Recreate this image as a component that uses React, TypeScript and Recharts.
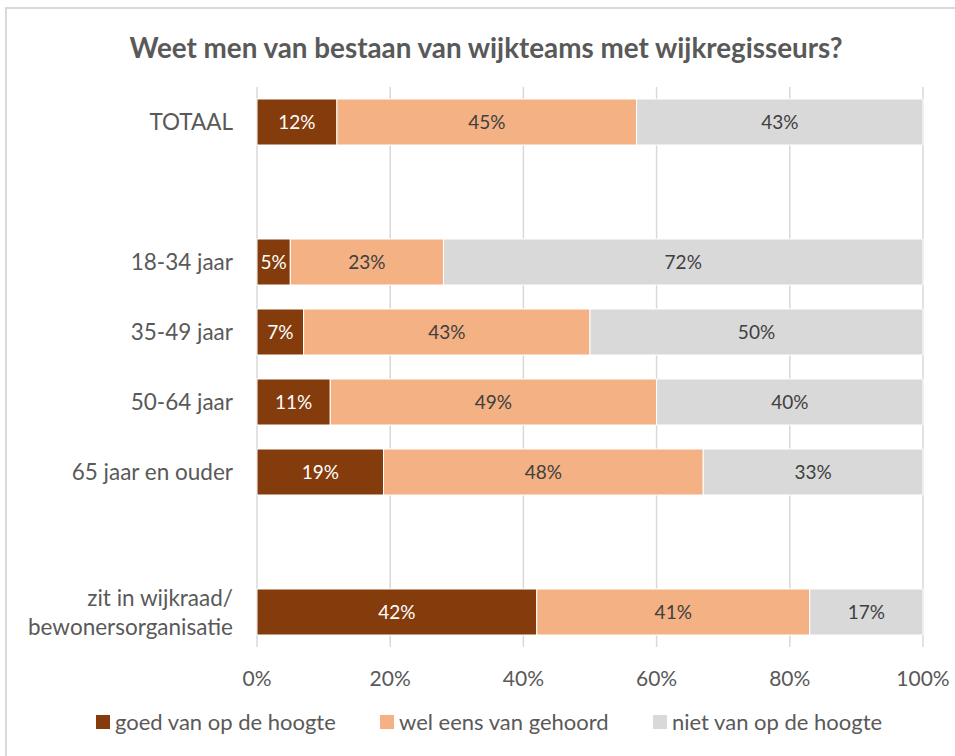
import React from 'react';
import { BarChart, Bar, XAxis, YAxis, CartesianGrid, LabelList } from 'recharts';

const categories = [
    'TOTAAL',
    ' ',
    '18-34 jaar',
    '35-49 jaar',
    '50-64 jaar',
    '65 jaar en ouder',
    '  ',
    'zit in wijkraad/\nbewonersorganisatie',
];
const goedValues = [12, null, 5, 7, 11, 19, null, 42];
const welValues = [45, null, 23, 43, 49, 48, null, 41];
const nietValues = [43, null, 72, 50, 40, 33, null, 17];
const xTicks = [0, 20, 40, 60, 80, 100];

const seriesNames = {
    goed: 'goed van op de hoogte',
    wel: 'wel eens van gehoord',
    niet: 'niet van op de hoogte',
};

const Colors = {
    goed: '#843C0C',
    wel: '#F4B183',
    niet: '#D9D9D9',
    text: '#595959',
    label: '#404040',
    grid: '#D9D9D9',
};

const FONT = 'Lato, "Open Sans", sans-serif';

const data = categories.map((name, i) => ({
    name,
    goed: goedValues[i],
    wel: welValues[i],
    niet: nietValues[i],
}));

const pct = (v: any) => (v == null ? '' : `${v}%`);

const CategoryTick: React.FC<any> = ({ x, y, payload }) => {
    const lines = String(payload.value).split('\n');
    const lineHeight = 29;
    const startY = y - ((lines.length - 1) * lineHeight) / 2;
    return (
        <text x={x} y={startY} textAnchor="end" fill={Colors.text} fontSize={22.5} fontFamily={FONT}>
            {lines.map((line, idx) => (
                <tspan key={idx} x={x} y={startY + idx * lineHeight} dy="0.36em">
                    {line}
                </tspan>
            ))}
        </text>
    );
};

const LegendItem: React.FC<{ color: string; label: string; width: number }> = ({ color, label, width }) => (
    <div style={{ display: 'flex', alignItems: 'center', width }}>
        <span style={{ width: 14, height: 14, background: color, marginRight: 5, flexShrink: 0 }} />
        <span>{label}</span>
    </div>
);

export default function App() {
    return (
        <div style={{ position: 'absolute', left: 0, top: 0, width: 955, height: 756, overflow: 'hidden', background: '#fff' }}>
            <div style={{ position: 'absolute', left: 5, top: 7, width: 980, height: 780, border: '2px solid #D9D9D9' }} />
            <div
                style={{
                    position: 'absolute',
                    left: 0,
                    top: 29,
                    width: 972,
                    textAlign: 'center',
                    fontFamily: FONT,
                    fontWeight: 700,
                    fontSize: 27.8,
                    color: Colors.text,
                    lineHeight: '38px',
                }}
            >
                Weet men van bestaan van wijkteams met wijkregisseurs?
            </div>
            <div style={{ position: 'absolute', left: 0, top: 0 }}>
                <BarChart
                    width={955}
                    height={756}
                    data={data}
                    layout="vertical"
                    barCategoryGap={12}
                    margin={{ top: 87, right: 32, bottom: 0, left: 0 }}
                >
                    <CartesianGrid horizontal={false} vertical stroke={Colors.grid} strokeWidth={1.5} />
                    <XAxis
                        type="number"
                        domain={[0, 100]}
                        ticks={xTicks}
                        tickFormatter={(v: number) => `${v}%`}
                        axisLine={false}
                        tickLine={false}
                        tickMargin={18}
                        height={109}
                        tick={{ fill: Colors.text, fontSize: 21, fontFamily: FONT }}
                    />
                    <YAxis
                        type="category"
                        dataKey="name"
                        width={257}
                        axisLine={false}
                        tickLine={false}
                        tickMargin={18}
                        interval={0}
                        tick={<CategoryTick />}
                    />
                    <Bar dataKey="goed" name={seriesNames.goed} stackId="a" fill={Colors.goed} stroke="#fff" strokeWidth={1} isAnimationActive={false}>
                        <LabelList dataKey="goed" position="center" formatter={pct} fill="#fff" fontSize={19} fontFamily={FONT} />
                    </Bar>
                    <Bar dataKey="wel" name={seriesNames.wel} stackId="a" fill={Colors.wel} stroke="#fff" strokeWidth={1} isAnimationActive={false}>
                        <LabelList dataKey="wel" position="center" formatter={pct} fill={Colors.label} fontSize={19} fontFamily={FONT} />
                    </Bar>
                    <Bar dataKey="niet" name={seriesNames.niet} stackId="a" fill={Colors.niet} stroke="#fff" strokeWidth={1} isAnimationActive={false}>
                        <LabelList dataKey="niet" position="center" formatter={pct} fill={Colors.label} fontSize={19} fontFamily={FONT} />
                    </Bar>
                </BarChart>
            </div>
            <div
                style={{
                    position: 'absolute',
                    left: 96,
                    top: 707,
                    display: 'flex',
                    fontFamily: FONT,
                    fontSize: 22,
                    color: Colors.text,
                    lineHeight: '30px',
                }}
            >
                <LegendItem color={Colors.goed} label={seriesNames.goed} width={284} />
                <LegendItem color={Colors.wel} label={seriesNames.wel} width={273} />
                <LegendItem color={Colors.niet} label={seriesNames.niet} width={260} />
            </div>
        </div>
    );
}
